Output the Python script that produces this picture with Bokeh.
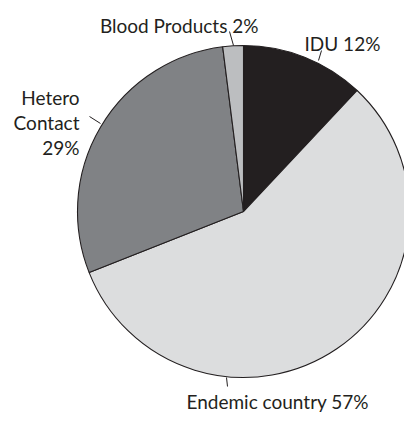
import numpy as np
from bokeh.plotting import figure
from bokeh.models import Range1d, ColumnDataSource
from bokeh.core.properties import value
from bokeh.embed import file_html
from bokeh.resources import INLINE

# data
categories = ["IDU", "Endemic country", "Hetero Contact", "Blood Products"]
percents = [12, 57, 29, 2]
colors = ["#231f20", "#dcddde", "#808285", "#bcbec0"]

W, H = 404, 414
p = figure(width=W, height=H, output_backend="svg", toolbar_location=None,
           x_range=Range1d(0, W), y_range=Range1d(0, H),
           min_border=0, outline_line_color=None)
p.axis.visible = False
p.grid.visible = False
p.background_fill_color = "white"
p.border_fill_color = "white"

def Y(img_y):
    return H - img_y

frac = np.array(percents, dtype=float) / sum(percents)
cum = np.concatenate([[0], np.cumsum(frac)])
start = np.pi / 2 - 2 * np.pi * cum[:-1]
end = np.pi / 2 - 2 * np.pi * cum[1:]

cx, cy, r = 243, Y(211), 166
src = ColumnDataSource(dict(start=start, end=end, color=colors, cat=categories))
p.wedge(x=cx, y=cy, radius=r, start_angle="start", end_angle="end",
        direction="clock", fill_color="color", line_color="#231f20",
        line_width=1.1, source=src)

font = value("Lato")
tc = "#231f20"
fs = "19px"

def label(x, y, txt, align):
    p.text(x=[x], y=[Y(y)], text=[txt], text_font=font, text_font_size=fs,
           text_color=tc, text_align=align, text_baseline="alphabetic")

def leader(x0, y0, x1, y1):
    p.line([x0, x1], [Y(y0), Y(y1)], line_color="#231f20", line_width=1)

label(258, 25, f"Blood Products {percents[3]}%", "right")
leader(229, 31, 233, 45)
label(304, 43, f"IDU {percents[0]}%", "left")
leader(321, 50, 318, 60)
label(79, 97, "Hetero", "right")
label(79, 122, "Contact", "right")
label(79, 147, f"{percents[2]}%", "right")
leader(89, 116, 100, 123)
label(186, 401, f"Endemic country {percents[1]}%", "left")
leader(226, 377, 227, 386)

open("out.html", "w").write(file_html(p, INLINE))
